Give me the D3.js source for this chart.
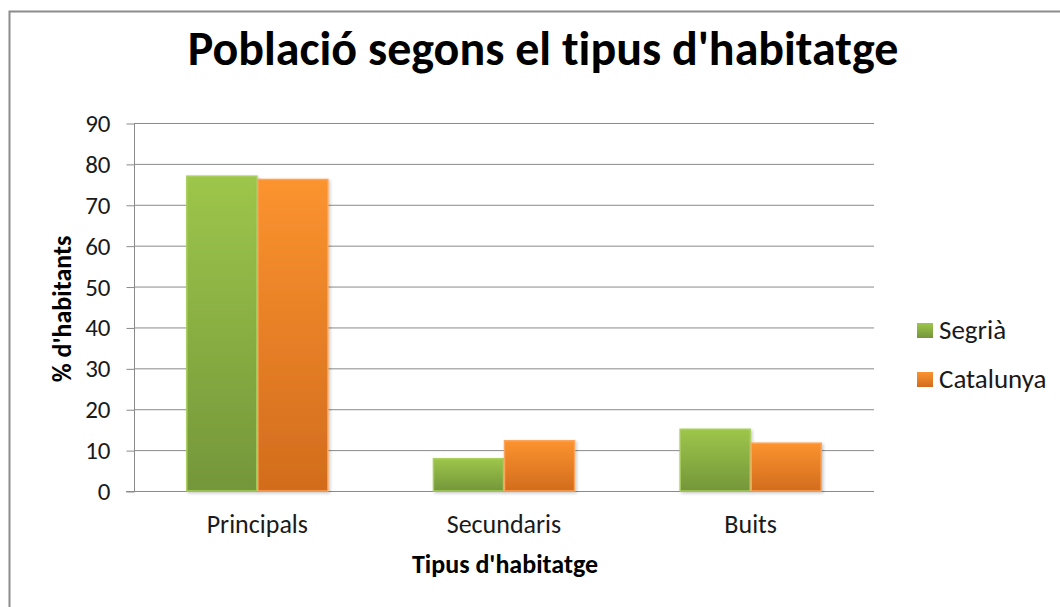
<!DOCTYPE html>
<html><head><meta charset="utf-8">
<script src="https://cdn.jsdelivr.net/npm/d3@7"></script>
<style>body{margin:0;background:#fff}svg{display:block;font-family:Carlito,"Open Sans","Liberation Sans",sans-serif;font-variant-ligatures:none;font-feature-settings:"liga" 0}</style>
</head><body>
<svg id="c" width="1060" height="607"></svg>
<script>
const categories = ["Principals", "Secundaris", "Buits"];
const seriesNames = ["Segrià", "Catalunya"];
const segria = [77.0, 7.9, 15.1];
const catalunya = [76.2, 12.3, 11.7];
const yTicks = [0, 10, 20, 30, 40, 50, 60, 70, 80, 90];
const title = "Població segons el tipus d'habitatge";
const xTitle = "Tipus d'habitatge";
const yTitle = "% d'habitants";

(function () {
const svg = d3.select("#c");
const defs = svg.append("defs");
const grads = [["gGreen", "#9dc64b", "#74963a"], ["gOrange", "#fb932f", "#d26c1d"]];
grads.forEach(([id, a, b]) => {
  const g = defs.append("linearGradient").attr("id", id).attr("x1", 0).attr("x2", 0).attr("y1", 0).attr("y2", 1);
  g.append("stop").attr("offset", "0%").attr("stop-color", a);
  g.append("stop").attr("offset", "100%").attr("stop-color", b);
});
const f = defs.append("filter").attr("id", "sh").attr("x", "-20%").attr("y", "-20%").attr("width", "140%").attr("height", "140%");
f.append("feDropShadow").attr("dx", 1.5).attr("dy", 1.5).attr("stdDeviation", 1.5).attr("flood-color", "#000").attr("flood-opacity", 0.22);

// outer border
svg.append("rect").attr("x", 9.5).attr("y", 11.5).attr("width", 1060).attr("height", 610)
  .attr("fill", "none").attr("stroke", "#8c8c8c").attr("stroke-width", 2);

const pLeft = 134, pRight = 874, pTop = 123, pBottom = 491;
const x = d3.scaleBand().domain(categories).range([pLeft, pRight]).paddingInner(0.424).paddingOuter(0.212);
const xs = d3.scaleBand().domain(seriesNames).range([0, x.bandwidth()]);
const y = d3.scaleLinear().domain([0, 90]).range([pBottom, pTop]);

// gridlines
svg.append("g").selectAll("line").data(yTicks.filter(d => d > 0)).join("line")
  .attr("x1", pLeft).attr("x2", pRight).attr("y1", d => y(d) + 0.5).attr("y2", d => y(d) + 0.5)
  .attr("stroke", "#8a8a8a").attr("stroke-width", 1);

// y axis
const yAxis = d3.axisLeft(y).tickValues(yTicks).tickSize(8).tickPadding(16);
const ga = svg.append("g").attr("transform", `translate(${pLeft + 0.5},0.5)`).call(yAxis);
ga.select(".domain").attr("stroke", "#8a8a8a").attr("d", `M0,${pTop}V${pBottom}`);
ga.selectAll(".tick line").attr("stroke", "#8a8a8a");
ga.selectAll(".tick text").attr("font-size", 25).attr("fill", "#1a1a1a").attr("font-family", "Carlito,'Open Sans',sans-serif");

// x axis baseline
svg.append("line").attr("x1", pLeft - 8).attr("x2", pRight).attr("y1", pBottom + 0.5).attr("y2", pBottom + 0.5)
  .attr("stroke", "#8a8a8a");

// bars
const data = [segria, catalunya];
const fills = ["url(#gGreen)", "url(#gOrange)"];
const strokes = ["#a9cf5e", "#fba55c"];
seriesNames.forEach((s, si) => {
  svg.append("g").selectAll("rect").data(categories).join("rect")
    .attr("x", c => x(c) + xs(s) + 0.5)
    .attr("width", xs.bandwidth() - 1)
    .attr("y", (c, i) => y(data[si][i]))
    .attr("height", (c, i) => pBottom - y(data[si][i]))
    .attr("fill", fills[si]).attr("stroke", strokes[si]).attr("stroke-width", 1.5)
    .attr("filter", "url(#sh)");
});

// x labels
svg.append("g").selectAll("text").data(categories).join("text")
  .attr("x", c => x(c) + x.bandwidth() / 2).attr("y", 533)
  .attr("text-anchor", "middle").attr("font-size", 26).attr("fill", "#1a1a1a").text(d => d);

// titles
svg.append("text").attr("x", 543).attr("y", 65).attr("text-anchor", "middle")
  .attr("font-size", 48).attr("font-weight", "bold").attr("fill", "#000").text(title);
svg.append("text").attr("x", 505).attr("y", 573).attr("text-anchor", "middle")
  .attr("font-size", 26).attr("font-weight", "bold").attr("fill", "#000").text(xTitle);
svg.append("text").attr("transform", "translate(71,309) rotate(-90)").attr("text-anchor", "middle")
  .attr("font-size", 26).attr("font-weight", "bold").attr("fill", "#000").text(yTitle);

// legend
const lg = svg.append("g").selectAll("g").data(seriesNames).join("g")
  .attr("transform", (d, i) => `translate(917,${323 + i * 49})`);
lg.append("rect").attr("width", 16).attr("height", 15).attr("fill", (d, i) => fills[i]);
lg.append("text").attr("x", 22).attr("y", 16).attr("font-size", 27).attr("fill", "#1a1a1a").text(d => d);
})();
</script>
</body></html>
